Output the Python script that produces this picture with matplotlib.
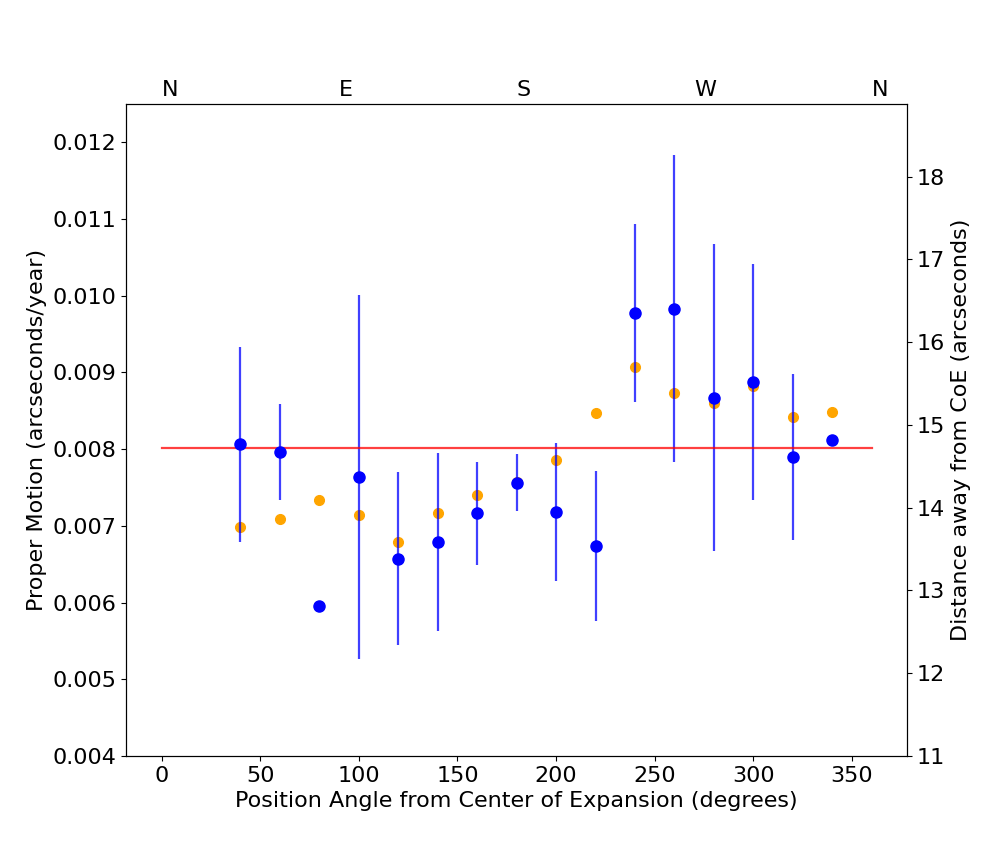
import matplotlib
matplotlib.use("Agg")
import matplotlib.pyplot as plt

angles = [40, 60, 80, 100, 120, 140, 160, 180, 200, 220, 240, 260, 280, 300, 320, 340]
proper_motion = [0.00806, 0.00796, 0.00595, 0.00764, 0.00657, 0.00679, 0.00716, 0.00756,
                 0.00718, 0.00674, 0.00977, 0.00983, 0.00867, 0.00887, 0.00790, 0.00812]
pm_err = [0.00127, 0.00063, 0.0, 0.00237, 0.00113, 0.00116, 0.00067, 0.00037,
          0.00090, 0.00098, 0.00116, 0.00200, 0.00200, 0.00154, 0.00108, 0.0]
distance = [13.77, 13.86, 14.09, 13.91, 13.59, 13.93, 14.15, 14.31,
            14.57, 15.14, 15.70, 15.38, 15.26, 15.47, 15.09, 15.16]
mean_pm = 0.00801
compass = ["N", "E", "S", "W", "N"]
compass_angles = [0, 90, 180, 270, 360]

plt.rcParams["font.size"] = 16

fig, ax = plt.subplots(figsize=(10.08, 8.64), dpi=100)
fig.subplots_adjust(left=0.125, right=0.9, top=0.88, bottom=0.125)
ax2 = ax.twinx()

ax2.plot(angles, distance, "o", color="orange", markersize=7)
ax2.set_ylim(11, 18.88)
ax2.set_ylabel("Distance away from CoE (arcseconds)")

ax.errorbar(angles, proper_motion, yerr=pm_err, fmt="o", color="b",
            ecolor=(0, 0, 1, 0.75), elinewidth=1.6, markersize=8)
ax.plot([0, 360], [mean_pm, mean_pm], color="r", alpha=0.75, linewidth=1.6)
ax.set_ylim(0.004, 0.0125)
ax.set_ylabel("Proper Motion (arcseconds/year)")
ax.set_xlabel("Position Angle from Center of Expansion (degrees)")

# keep the blue points above the orange ones
ax.set_zorder(ax2.get_zorder() + 1)
ax.patch.set_visible(False)

for a, lab in zip(compass_angles, compass):
    ax.text(a, 0.0126, lab, ha="left", va="baseline")

fig.savefig("out.png")
